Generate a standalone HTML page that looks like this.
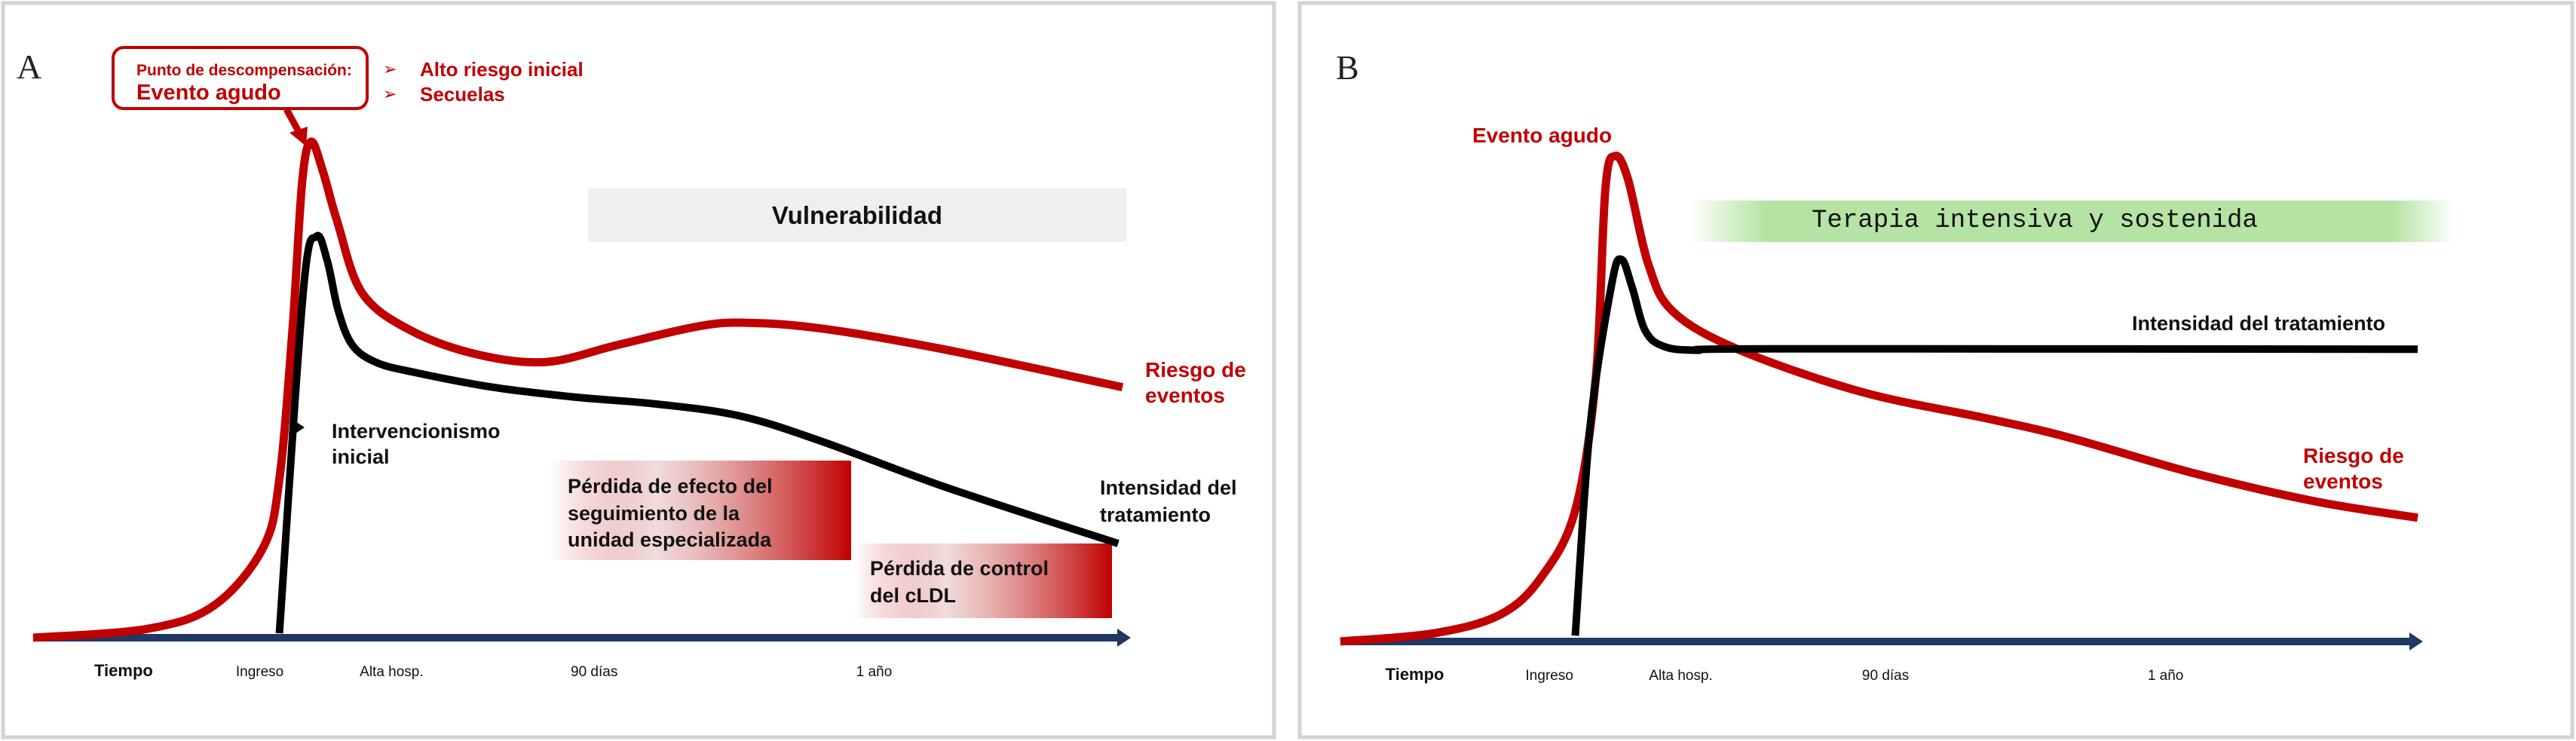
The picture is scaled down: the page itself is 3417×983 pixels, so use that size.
<!DOCTYPE html>
<html><head><meta charset="utf-8"><style>
html,body{margin:0;padding:0;background:#fff;}
svg{display:block;}
text{font-family:"Liberation Sans",Arial,sans-serif;}
</style></head><body>
<svg id="chart" width="3417" height="983" viewBox="0 0 3417 983" xmlns="http://www.w3.org/2000/svg">
<defs>
<linearGradient id="redGrad" x1="0" x2="1" y1="0" y2="0"><stop offset="0" stop-color="#c00000" stop-opacity="0"/><stop offset="0.35" stop-color="#e8c4c4" stop-opacity="0.6"/><stop offset="1" stop-color="#c00000"/></linearGradient>
<linearGradient id="greenGrad" x1="0" x2="1" y1="0" y2="0"><stop offset="0" stop-color="#b5e3a3" stop-opacity="0"/><stop offset="0.1" stop-color="#b5e3a3"/><stop offset="0.92" stop-color="#b5e3a3"/><stop offset="1" stop-color="#b5e3a3" stop-opacity="0"/></linearGradient>
</defs>
<g>
<rect x="4" y="4" width="1686" height="974" fill="#fff" stroke="#d3d3d3" stroke-width="5"/>
<text x="22" y="104" font-size="46" fill="#222" style="font-family:'Liberation Serif',serif">A</text>
<rect x="150" y="63" width="337" height="81" rx="14" fill="#fff" stroke="#c00000" stroke-width="4"/>
<text x="181" y="100" font-size="21" font-weight="bold" fill="#c00000">Punto de descompensación:</text>
<text x="181" y="132" font-size="29" font-weight="bold" fill="#c00000">Evento agudo</text>
<text x="508" y="99" font-size="22" fill="#c00000">➢</text>
<text x="508" y="132" font-size="22" fill="#c00000">➢</text>
<text x="557" y="101" font-size="26" font-weight="bold" fill="#c00000">Alto riesgo inicial</text>
<text x="557" y="134" font-size="26" font-weight="bold" fill="#c00000">Secuelas</text>
<g><line x1="380" y1="145" x2="397" y2="176" stroke="#c00000" stroke-width="9"/><polygon points="384,176 408,168 406,194" fill="#c00000"/></g>
<rect x="780" y="250" width="714" height="71" fill="#efefef"/>
<text x="1137" y="297" font-size="33" font-weight="bold" fill="#111" text-anchor="middle">Vulnerabilidad</text>
<rect x="731" y="611" width="398" height="132" fill="url(#redGrad)"/>
<text font-size="27" font-weight="bold" fill="#111"><tspan x="753" y="654">Pérdida de efecto del</tspan><tspan x="753" y="690">seguimiento de la</tspan><tspan x="753" y="725">unidad especializada</tspan></text>
<rect x="1134" y="721" width="341" height="99" fill="url(#redGrad)"/>
<text font-size="27" font-weight="bold" fill="#111"><tspan x="1154" y="763">Pérdida de control</tspan><tspan x="1154" y="799">del cLDL</tspan></text>
<polygon points="392,559 404,567 392,575 392,571 384,571 384,563 392,563" fill="#111"/>
<text font-size="27" font-weight="bold" fill="#111"><tspan x="440" y="581">Intervencionismo</tspan><tspan x="440" y="615">inicial</tspan></text>
<text font-size="28" font-weight="bold" fill="#c00000"><tspan x="1519" y="500">Riesgo de</tspan><tspan x="1519" y="534">eventos</tspan></text>
<text font-size="27" font-weight="bold" fill="#111"><tspan x="1459" y="656">Intensidad del</tspan><tspan x="1459" y="692">tratamiento</tspan></text>
<g id="axisA"></g>
<g id="curvesA"></g>
</g>
<g>
<rect x="1724" y="4" width="1688" height="974" fill="#fff" stroke="#d3d3d3" stroke-width="5"/>
<text x="1772" y="105" font-size="46" fill="#222" style="font-family:'Liberation Serif',serif">B</text>
<rect x="2241" y="266" width="1015" height="55" fill="url(#greenGrad)"/>
<text x="2699" y="301" font-size="34" fill="#111" text-anchor="middle" style="font-family:'Liberation Mono',monospace">Terapia intensiva y sostenida</text>
<text x="1953" y="189" font-size="28" font-weight="bold" fill="#c00000">Evento agudo</text>
<text x="2828" y="438" font-size="27" font-weight="bold" fill="#111">Intensidad del tratamiento</text>
<text font-size="28" font-weight="bold" fill="#c00000"><tspan x="3055" y="614">Riesgo de</tspan><tspan x="3055" y="648">eventos</tspan></text>
<g id="axisB"></g>
<g id="curvesB"></g>
</g>
</svg>
<script>
// Data (time in 0..100 units, level in 0..100 units)
const tickLabels = ["Tiempo","Ingreso","Alta hosp.","90 días","1 año"];
const tickPosA = [8.3, 20.8, 32.9, 51.5, 77.2];
const tickPosB = [6.9, 19.4, 31.6, 50.6, 76.6];
const riskA_t = [0,10.5,16.6,21.1,22.6,23.8,24.7,25.5,26.6,27.9,30.2,34.7,40.8,47.1,53.6,61.1,65.6,72.5,83.7,100];
const riskA_v = [0,1.8,6.5,18.1,32,62,92,100,94,84,69.5,61.9,57.1,55.6,59.0,62.8,63.5,62.3,58.1,50.5];
const treatA_t = [22.6,24.8,26.0,27.0,28.0,29.3,31.5,35.0,42.2,49.8,57.3,64.9,72.5,83.7,99.6];
const treatA_v = [0.9,70,80.9,76,66,59,55.5,53.5,50.5,48.5,47.1,44.7,39.5,30.4,19.0];
const riskB_t = [0,8.7,14.9,18.7,21.8,23.7,24.6,25.5,26.7,28.6,30.9,37.0,48.4,59.9,67.5,79.0,90.4,100];
const riskB_v = [0,1.7,5.6,13.4,27.0,54.2,93.2,100,95.2,77.6,67.9,60.1,51.4,46.0,42.1,34.8,28.9,25.5];
const treatB_t = [21.8,23.2,25.2,26.1,27.1,28.3,30.0,33.0,40.0,100];
const treatB_v = [1.2,44.6,73.8,78.7,72.8,64.0,60.8,60.0,60.3,60.2];

const NS="http://www.w3.org/2000/svg";
function mk(tag, attrs){const e=document.createElementNS(NS,tag);for(const k in attrs)e.setAttribute(k,attrs[k]);return e;}
function scales(x0,x1,y0,y1){return {x:t=>x0+t*(x1-x0)/100, y:v=>y0-v*(y0-y1)/100};}
const SA=scales(44,1489,846,188), SB=scales(1778,3207,851,207);
function smooth(pts){
  let d="M"+pts[0][0]+","+pts[0][1];
  for(let i=0;i<pts.length-1;i++){
    const p0=pts[Math.max(i-1,0)],p1=pts[i],p2=pts[i+1],p3=pts[Math.min(i+2,pts.length-1)];
    const c1=[p1[0]+(p2[0]-p0[0])/6,p1[1]+(p2[1]-p0[1])/6];
    const c2=[p2[0]-(p3[0]-p1[0])/6,p2[1]-(p3[1]-p1[1])/6];
    d+=" C"+c1[0].toFixed(1)+","+c1[1].toFixed(1)+" "+c2[0].toFixed(1)+","+c2[1].toFixed(1)+" "+p2[0].toFixed(1)+","+p2[1].toFixed(1);
  }
  return d;
}
function curve(g,S,ts,vs,color,w,name){
  const pts=ts.map((t,i)=>[S.x(t),S.y(vs[i])]);
  const p=mk("path",{d:smooth(pts),fill:"none",stroke:color,"stroke-width":w,"stroke-linejoin":"round"});
  
  
  g.appendChild(p);
}
function axis(g,S,x0,x1,y,ticks,labelY){
  const l=mk("line",{x1:x0,y1:y,x2:x1-14,y2:y,stroke:"#1f3864","stroke-width":10});
  
  
  g.appendChild(l);
  const a=mk("polygon",{points:(x1-18)+","+(y-12)+" "+x1+","+y+" "+(x1-18)+","+(y+12),fill:"#1f3864"});
  
  
  g.appendChild(a);
  ticks.forEach((t,i)=>{
    const tx=mk("text",{x:S.x(t),y:labelY,"text-anchor":"middle","font-size":i===0?22:19,"font-weight":i===0?"bold":"normal",fill:"#111"});
    tx.textContent=tickLabels[i];
    
    
    g.appendChild(tx);
  });
}
axis(document.getElementById("axisA"),SA,44,1500,846,tickPosA,897);
axis(document.getElementById("axisB"),SB,1778,3214,851,tickPosB,902);
curve(document.getElementById("curvesA"),SA,riskA_t,riskA_v,"#c00000",11,"risk-curve-a");
curve(document.getElementById("curvesA"),SA,treatA_t,treatA_v,"#000",10,"treatment-curve-a");
curve(document.getElementById("curvesB"),SB,riskB_t,riskB_v,"#c00000",11,"risk-curve-b");
curve(document.getElementById("curvesB"),SB,treatB_t,treatB_v,"#000",10,"treatment-curve-b");
</script>
</body></html>
